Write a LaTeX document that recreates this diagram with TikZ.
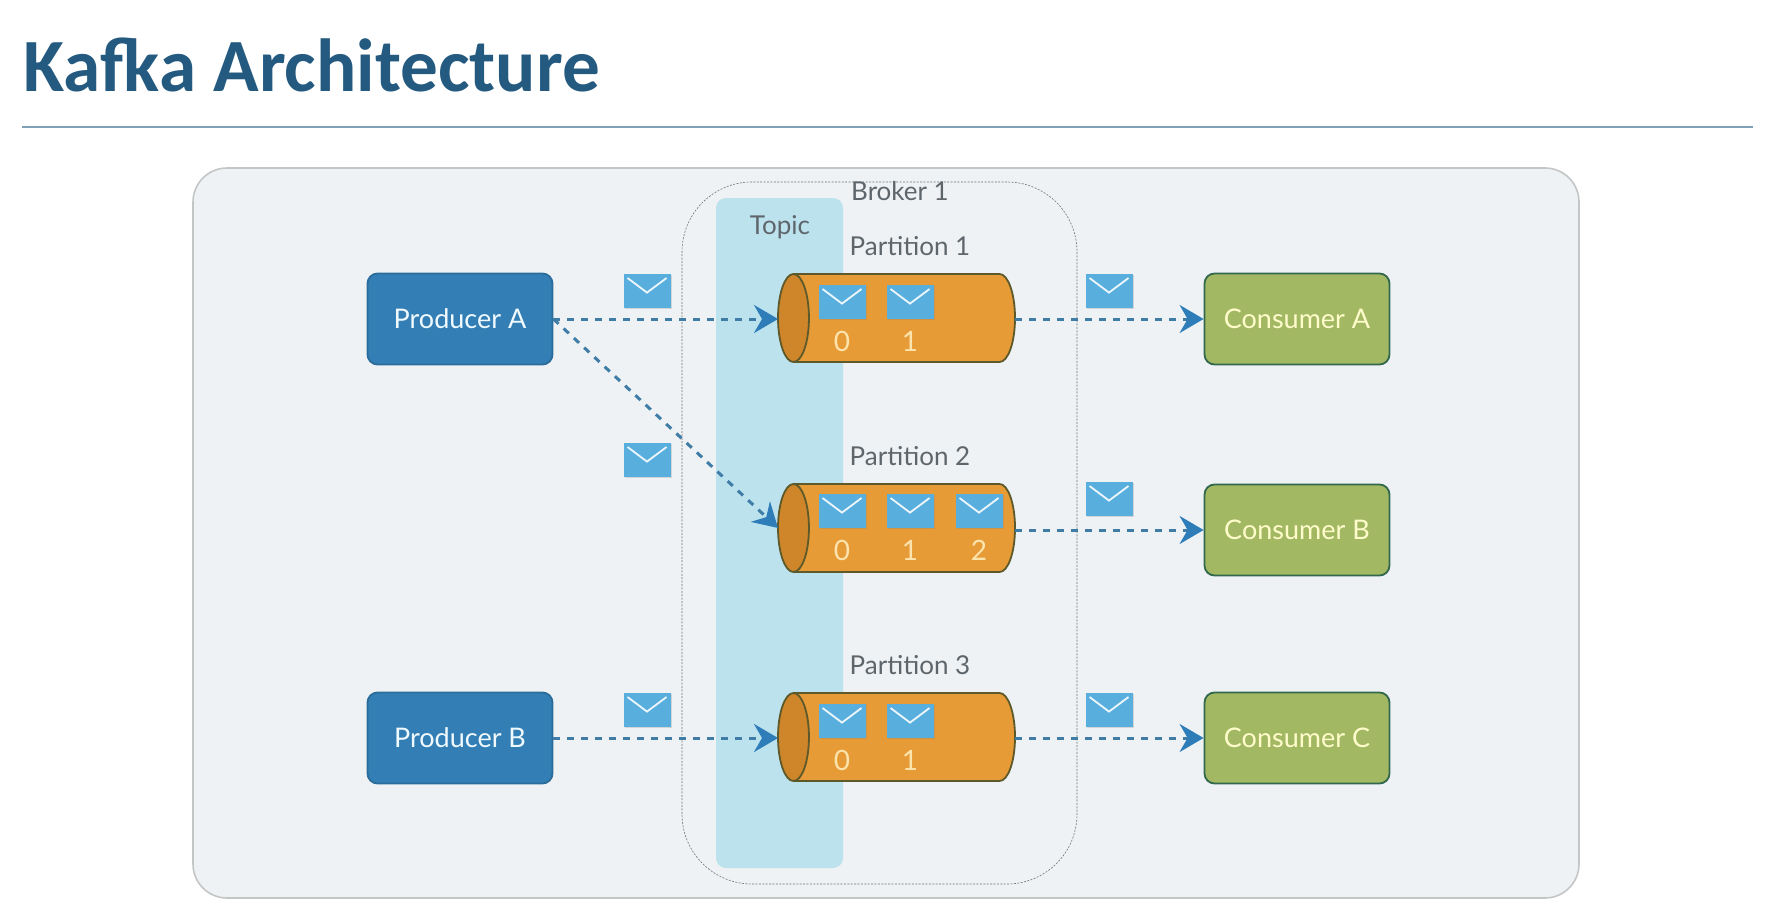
\documentclass[tikz,border=0pt]{standalone}
\usepackage{fontspec}
\setmainfont{Lato}
\newfontfamily\titlefont{Carlito}
\usetikzlibrary{positioning,arrows.meta,shapes.geometric,shadows}
\definecolor{titleblue}{HTML}{255A80}
\definecolor{rulegray}{HTML}{7FA0B5}
\definecolor{panelfill}{HTML}{EEF2F4}
\definecolor{paneldraw}{HTML}{C4C6C6}
\definecolor{topicblue}{HTML}{BCE2EE}
\definecolor{prodblue}{HTML}{337FB5}
\definecolor{consgreen}{HTML}{A3B862}
\definecolor{cylorange}{HTML}{E69B37}
\definecolor{cylend}{HTML}{CF8529}
\definecolor{envblue}{HTML}{58AEDD}
\definecolor{flowblue}{HTML}{3F7CA6}
\definecolor{tipblue}{HTML}{2E7DB8}
\definecolor{labelgray}{HTML}{5E666C}

\begin{document}
\begin{tikzpicture}[
  x=0.5pt, y=-0.5pt,
  font=\fontsize{13}{15}\selectfont,
  panel/.style={draw=paneldraw, line width=0.8pt, fill=panelfill, rounded corners=17pt,
                minimum width=693pt, minimum height=365pt, inner sep=0pt},
  broker/.style={draw=black!55, dash pattern=on 1pt off 0.7pt, line width=0.3pt, rounded corners=35pt,
                 minimum width=197.5pt, minimum height=351pt, inner sep=0pt},
  topic/.style={fill=topicblue, rounded corners=5pt,
                minimum width=63.5pt, minimum height=335pt, inner sep=0pt},
  box/.style={rounded corners=5pt, line width=0.9pt, minimum width=92.5pt,
              minimum height=45.5pt, inner sep=0pt, font=\fontsize{13.5}{15}\selectfont},
  prod/.style={box, fill=prodblue, draw=prodblue!85!black, text=cyan!6},
  cons/.style={box, fill=consgreen, draw=black!45!teal!70!consgreen, text=yellow!20},
  part/.style={cylinder, shape border rotate=180, shape aspect=0.91,
               cylinder uses custom fill, cylinder body fill=cylorange,
               cylinder end fill=cylend, draw=olive!55!black, line width=0.9pt,
               minimum height=118.5pt, minimum width=44pt, inner sep=1pt, outer sep=0pt},
  env/.style={fill=envblue, minimum width=23.5pt, minimum height=17pt, inner sep=0pt,
              drop shadow={shadow xshift=0.5pt, shadow yshift=-0.7pt, opacity=0.25},
              path picture={\draw[white!90!envblue, line width=0.9pt]
                ([xshift=2pt,yshift=-2pt]path picture bounding box.north west) --
                ([yshift=-9.3pt]path picture bounding box.north) --
                ([xshift=-2pt,yshift=-2pt]path picture bounding box.north east);}},
  lbl/.style={text=labelgray, inner sep=0pt},
  num/.style={text=yellow!35!orange!30, inner sep=0pt, font=\fontsize{14}{16}\selectfont},
  flow/.style={draw=flowblue, dash pattern=on 3.5pt off 3.5pt, line width=1.5pt,
               -{Stealth[length=12pt, width=14pt, inset=4pt, color=tipblue]}},
]
\useasboundingbox (0,0) rectangle (1782,904);

% ---- title ----
\node[anchor=base west, inner sep=0pt, text=titleblue,
      font=\titlefont\bfseries\fontsize{37.6}{40}\selectfont] (title) at (23,91) {Kafka Architecture};
\coordinate (ruleL) at (22,127);
\coordinate (ruleR) at (1753,127);
\draw[rulegray, line width=0.7pt] (ruleL) -- (ruleR);

% ---- background ----
\node[panel] (bg) at (886,533) {};
\node[broker] (brk) at (879.5,533) {};
\node[topic] (top) at (779.5,533) {};
\node[lbl] (brklbl) at (900,191) {Broker 1};
\node[lbl] (toplbl) at (780,227) {Topic};

% ---- producers ----
\node[prod] (pa) at (460,319) {Producer A};
\node[prod] (pb) at (460,738) {Producer B};

% ---- partitions ----
\node[part] (p1) at (907,318) {\strut};
\node[part] (p2) at (907,528) {\strut};
\node[part] (p3) at (907,737) {\strut};
\node[lbl, above=9pt of p1, xshift=1.5pt] (p1lbl) {Partition 1};
\node[lbl, above=9pt of p2, xshift=1.5pt] (p2lbl) {Partition 2};
\node[lbl, above=9pt of p3, xshift=1.5pt] (p3lbl) {Partition 3};

% ---- consumers ----
\node[cons] (ca) at (1297,319) {Consumer A};
\node[cons] (cb) at (1297,530) {Consumer B};
\node[cons] (cc) at (1297,738) {Consumer C};

% ---- flows ----
\draw[flow] (pa.east) -- (pa.east -| p1.west);
\draw[flow] (pa.east) -- (p2.west);
\draw[flow] (pb.east) -- (pb.east -| p3.west);
\draw[flow] (ca.west -| p1.east) -- (ca.west);
\draw[flow] (cb.west -| p2.east) -- (cb.west);
\draw[flow] (cc.west -| p3.east) -- (cc.west);

% ---- messages in flight ----
\node[env] (ma) at (647,291) {};
\node[env] (mb) at (647,460) {};
\node[env] (mc) at (647,710) {};
\node[env] (md) at (1109,291) {};
\node[env] (me) at (1109,499) {};
\node[env] (mf) at (1109,710) {};

% ---- messages stored ----
\node[env] (m10) at (842,302) {};
\node[env] (m11) at (910,302) {};
\node[env] (m20) at (842,511) {};
\node[env] (m21) at (910,511) {};
\node[env] (m22) at (979,511) {};
\node[env] (m30) at (842,721) {};
\node[env] (m31) at (910,721) {};

% ---- offsets ----
\node[num] (n10) at (842,341) {0};
\node[num] (n11) at (910,341) {1};
\node[num] (n20) at (842,550) {0};
\node[num] (n21) at (910,550) {1};
\node[num] (n22) at (979,550) {2};
\node[num] (n30) at (842,760) {0};
\node[num] (n31) at (910,760) {1};
\end{tikzpicture}
\end{document}
